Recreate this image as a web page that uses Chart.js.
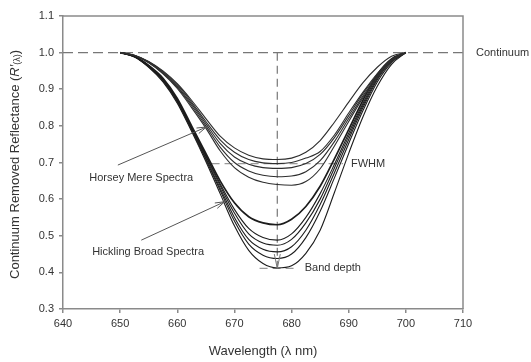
<!DOCTYPE html>
<html>
<head>
<meta charset="utf-8">
<script src="https://cdn.jsdelivr.net/npm/chart.js@4.4.1/dist/chart.umd.min.js"></script>
<style>
  html, body { margin: 0; padding: 0; background: #fff; }
  #spectraChart { display: block; }
</style>
</head>
<body>
<canvas id="spectraChart" width="531" height="362"></canvas>
<script>
// wavelength samples (nm) shared by every spectrum
const wavelengths = [650, 652.5, 655, 657.5, 660, 662.5, 665, 667.5, 670, 672.5, 675,
                     677.5, 680, 682.5, 685, 687.5, 690, 692.5, 695, 697.5, 700];

// Hickling Broad continuum-removed spectra (deep band)
const hickling1 = [1.0, 0.99, 0.965, 0.93, 0.875, 0.80, 0.725, 0.65, 0.59, 0.552, 0.535, 0.53, 0.545, 0.58, 0.635, 0.71, 0.79, 0.87, 0.94, 0.983, 1.0];
const hickling2 = [1.0, 0.99, 0.964, 0.928, 0.872, 0.797, 0.72, 0.642, 0.572, 0.52, 0.495, 0.488, 0.505, 0.55, 0.615, 0.695, 0.78, 0.862, 0.935, 0.98, 1.0];
const hickling3 = [1.0, 0.99, 0.963, 0.927, 0.87, 0.795, 0.717, 0.637, 0.562, 0.505, 0.48, 0.474, 0.49, 0.535, 0.60, 0.685, 0.772, 0.856, 0.93, 0.978, 1.0];
const hickling4 = [1.0, 0.989, 0.962, 0.925, 0.868, 0.792, 0.712, 0.63, 0.55, 0.49, 0.463, 0.456, 0.47, 0.515, 0.585, 0.672, 0.763, 0.85, 0.926, 0.976, 1.0];
const hickling5 = [1.0, 0.989, 0.961, 0.923, 0.865, 0.789, 0.708, 0.624, 0.54, 0.477, 0.447, 0.438, 0.45, 0.495, 0.567, 0.658, 0.752, 0.842, 0.92, 0.973, 1.0];
const hickling6 = [1.0, 0.988, 0.96, 0.92, 0.862, 0.785, 0.703, 0.615, 0.527, 0.46, 0.424, 0.412, 0.418, 0.452, 0.515, 0.618, 0.725, 0.825, 0.908, 0.968, 1.0];

// Horsey Mere continuum-removed spectra (shallow band)
const horsey1 = [1.0, 0.993, 0.976, 0.95, 0.915, 0.87, 0.82, 0.772, 0.74, 0.72, 0.71, 0.708, 0.712, 0.728, 0.76, 0.81, 0.865, 0.918, 0.96, 0.99, 1.0];
const horsey2 = [1.0, 0.993, 0.975, 0.948, 0.912, 0.865, 0.812, 0.762, 0.728, 0.708, 0.699, 0.697, 0.70, 0.712, 0.73, 0.775, 0.835, 0.892, 0.943, 0.982, 1.0];
const horsey3 = [1.0, 0.992, 0.974, 0.946, 0.908, 0.86, 0.806, 0.752, 0.715, 0.695, 0.686, 0.684, 0.686, 0.697, 0.722, 0.768, 0.828, 0.888, 0.94, 0.98, 1.0];
const horsey4 = [1.0, 0.992, 0.973, 0.944, 0.905, 0.855, 0.80, 0.742, 0.70, 0.677, 0.665, 0.661, 0.663, 0.675, 0.705, 0.757, 0.82, 0.882, 0.936, 0.978, 1.0];
const horsey5 = [1.0, 0.992, 0.972, 0.942, 0.902, 0.85, 0.794, 0.732, 0.686, 0.66, 0.646, 0.64, 0.638, 0.648, 0.683, 0.745, 0.812, 0.877, 0.932, 0.976, 1.0];

const hicklingSpectra = [hickling1, hickling2, hickling3, hickling4, hickling5, hickling6];
const horseySpectra = [horsey1, horsey2, horsey3, horsey4, horsey5];

// axis ticks
const xTicks = [640, 650, 660, 670, 680, 690, 700, 710];
const yTicks = [0.3, 0.4, 0.5, 0.6, 0.7, 0.8, 0.9, 1.0, 1.1];

// band parameters marked on the plot
const continuumLevel = 1.0;
const bandCentre = 677.5;
const fwhmLevel = 0.697;
const fwhmRange = [666, 689];
const bandDepthLevel = 0.411;
const bandDepthRange = [674.4, 681];

const toPoints = ys => ys.map((y, i) => ({ x: wavelengths[i], y: y }));

const datasets = [];
horseySpectra.forEach(s => datasets.push({
  data: toPoints(s), borderColor: '#2e2e2e', borderWidth: 1.1
}));
hicklingSpectra.forEach((s, i) => datasets.push({
  data: toPoints(s), borderColor: '#1c1c1c', borderWidth: i === 0 ? 1.7 : 1.1
}));
datasets.forEach(d => {
  d.pointRadius = 0;
  d.cubicInterpolationMode = 'monotone';
  d.fill = false;
});

const FONT = '"Liberation Sans", Arial, sans-serif';

function dashedLine(ctx, x1, y1, x2, y2, color, dash) {
  ctx.save();
  ctx.strokeStyle = color;
  ctx.lineWidth = 1.2;
  ctx.setLineDash(dash);
  ctx.beginPath();
  ctx.moveTo(x1, y1);
  ctx.lineTo(x2, y2);
  ctx.stroke();
  ctx.restore();
}

function arrow(ctx, x1, y1, x2, y2) {
  const a = Math.atan2(y2 - y1, x2 - x1);
  const len = 10, spread = 0.3;
  ctx.save();
  ctx.strokeStyle = '#555';
  ctx.lineWidth = 1;
  ctx.beginPath();
  ctx.moveTo(x1, y1);
  ctx.lineTo(x2, y2);
  ctx.moveTo(x2 - len * Math.cos(a - spread), y2 - len * Math.sin(a - spread));
  ctx.lineTo(x2, y2);
  ctx.lineTo(x2 - len * Math.cos(a + spread), y2 - len * Math.sin(a + spread));
  ctx.stroke();
  ctx.restore();
}

function label(ctx, text, x, y) {
  ctx.save();
  ctx.fillStyle = '#333';
  ctx.font = '11px ' + FONT;
  ctx.textAlign = 'left';
  ctx.textBaseline = 'middle';
  ctx.fillText(text, x, y);
  ctx.restore();
}

const bandNotes = {
  id: 'bandNotes',
  beforeDatasetsDraw(chart) {
    const { ctx, chartArea: ca } = chart;
    const xs = chart.scales.x, ys = chart.scales.y;
    const px = v => xs.getPixelForValue(v);
    const py = v => ys.getPixelForValue(v);

    // continuum line
    dashedLine(ctx, ca.left, py(continuumLevel), ca.right, py(continuumLevel), '#777', [10, 5]);
    // band centre
    dashedLine(ctx, px(bandCentre), py(continuumLevel), px(bandCentre), py(bandDepthLevel), '#777', [8, 5]);
    // full width at half maximum
    dashedLine(ctx, px(fwhmRange[0]), py(fwhmLevel), px(fwhmRange[1]), py(fwhmLevel), '#999', [8, 5]);
    // band depth floor
    dashedLine(ctx, px(bandDepthRange[0]), py(bandDepthLevel), px(bandDepthRange[1]), py(bandDepthLevel), '#999', [8, 5]);
  },
  afterDatasetsDraw(chart) {
    const { ctx, chartArea: ca } = chart;
    const xs = chart.scales.x, ys = chart.scales.y;
    const px = v => xs.getPixelForValue(v);
    const py = v => ys.getPixelForValue(v);

    // top and right frame
    ctx.save();
    ctx.strokeStyle = '#8a8a8a';
    ctx.lineWidth = 1.5;
    ctx.beginPath();
    ctx.moveTo(ca.left, ca.top);
    ctx.lineTo(ca.right, ca.top);
    ctx.lineTo(ca.right, ca.bottom);
    ctx.stroke();
    ctx.restore();

    // band depth arrow head
    ctx.save();
    ctx.strokeStyle = '#777';
    ctx.lineWidth = 1;
    ctx.beginPath();
    ctx.moveTo(px(bandCentre) - 3, py(0.45));
    ctx.lineTo(px(bandCentre), py(bandDepthLevel));
    ctx.lineTo(px(bandCentre) + 3, py(0.45));
    ctx.stroke();
    ctx.restore();

    arrow(ctx, px(649.6), py(0.693), px(665.1), py(0.797));
    arrow(ctx, px(653.7), py(0.488), px(668.3), py(0.593));

    label(ctx, 'Horsey Mere Spectra', px(644.6), py(0.657));
    label(ctx, 'Hickling Broad Spectra', px(645.1), py(0.456));
    label(ctx, 'FWHM', px(690.4), py(fwhmLevel));
    label(ctx, 'Band depth', px(682.3), py(bandDepthLevel));
    label(ctx, 'Continuum', ca.right + 13, py(continuumLevel));

    // x axis title
    ctx.save();
    ctx.fillStyle = '#333';
    ctx.font = '13px ' + FONT;
    ctx.textAlign = 'center';
    ctx.textBaseline = 'middle';
    ctx.fillText('Wavelength (\u03bb nm)', (ca.left + ca.right) / 2, 351);
    ctx.restore();

    // y axis title with subscripted (λ)
    ctx.save();
    ctx.translate(15, (ca.top + ca.bottom) / 2 + 2);
    ctx.rotate(-Math.PI / 2);
    ctx.fillStyle = '#333';
    ctx.textBaseline = 'middle';
    const parts = [
      ['Continuum Removed Reflectance (', '13px ' + FONT, 0],
      ['R\u2032', 'italic 13px ' + FONT, 0],
      ['(\u03bb)', '9px ' + FONT, 3],
      [')', '13px ' + FONT, 0]
    ];
    let total = 0;
    parts.forEach(p => { ctx.font = p[1]; total += ctx.measureText(p[0]).width; });
    let cx = -total / 2;
    parts.forEach(p => {
      ctx.font = p[1];
      ctx.fillText(p[0], cx, p[2]);
      cx += ctx.measureText(p[0]).width;
    });
    ctx.restore();
  }
};

new Chart(document.getElementById('spectraChart'), {
  type: 'line',
  data: { datasets: datasets },
  options: {
    responsive: false,
    animation: false,
    layout: { padding: { top: 16, right: 68, left: 0, bottom: 0 } },
    plugins: { legend: { display: false }, tooltip: { enabled: false } },
    scales: {
      x: {
        type: 'linear',
        min: 640,
        max: 710,
        afterFit: s => { s.height = 53; },
        afterBuildTicks: s => { s.ticks = xTicks.map(v => ({ value: v })); },
        grid: { drawOnChartArea: false, tickLength: 4, color: '#8a8a8a', lineWidth: 1.5 },
        border: { color: '#8a8a8a', width: 1.5 },
        ticks: { color: '#333', font: { family: FONT, size: 11 }, padding: 4 }
      },
      y: {
        type: 'linear',
        min: 0.3,
        max: 1.1,
        afterFit: s => { s.width = 63; },
        afterBuildTicks: s => { s.ticks = yTicks.map(v => ({ value: v })); },
        grid: { drawOnChartArea: false, tickLength: 4, color: '#8a8a8a', lineWidth: 1.5 },
        border: { color: '#8a8a8a', width: 1.5 },
        ticks: {
          color: '#333',
          font: { family: FONT, size: 11 },
          padding: 5,
          callback: v => v.toFixed(1)
        }
      }
    }
  },
  plugins: [bandNotes]
});
</script>
</body>
</html>
